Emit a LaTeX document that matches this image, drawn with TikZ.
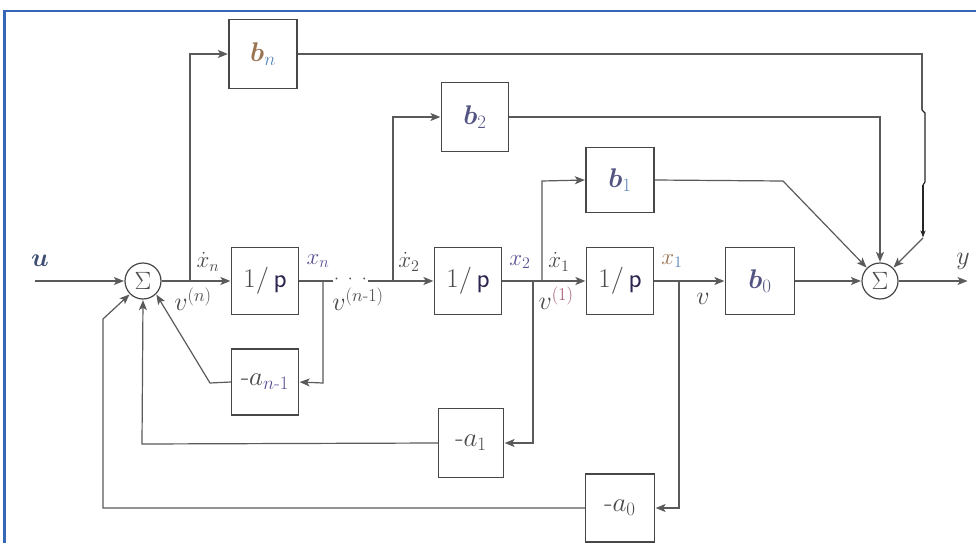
\RequirePackage{fix-cm}
\documentclass[tikz,border=0pt]{standalone}
\usepackage{amsmath}
\usetikzlibrary{arrows.meta}
\definecolor{ln}{HTML}{5A5A5A}
\definecolor{boxc}{HTML}{474747}
\definecolor{frameblue}{HTML}{3566B8}
\definecolor{lblc}{HTML}{4A4A4A}
\definecolor{ucol}{HTML}{3E4E72}
\definecolor{purp}{HTML}{5B4E90}
\definecolor{subblue}{HTML}{5A86B8}
\definecolor{brn}{HTML}{9A7352}
\definecolor{bcol}{HTML}{535482}
\definecolor{pcol}{HTML}{2E2450}
\definecolor{pinkc}{HTML}{A0506E}
\newcommand\myfs[1]{\fontsize{#1}{#1}\selectfont}
\newcommand\onep{$1/$\,\textsf{\color{pcol}p}}
\begin{document}
\begin{tikzpicture}[x=1pt,y=-1pt,
  blk/.style={draw=boxc, line width=1.3pt, minimum width=67pt, minimum height=67pt, inner sep=0pt, font=\myfs{27}, text=lblc},
  sumc/.style={circle, draw=boxc, line width=1.2pt, minimum size=36pt, inner sep=0pt, font=\myfs{25}, text=lblc},
  conn/.style={draw=ln, line width=1.2pt},
  arr/.style={conn, -{Stealth[length=10pt,width=8pt,inset=2.5pt]}, shorten >=0.5pt},
  lbl/.style={font=\myfs{23}, text=lblc, inner sep=0pt}]
\useasboundingbox (0,0) rectangle (976,543);
\fill[white] (0,0) rectangle (976,543);
\draw[frameblue, line width=2.2pt] (4.5,543) -- (4.5,11) -- (976,11);

% summing junctions
\node[sumc] (s1) at (143,281) {$\Sigma$};
\node[sumc] (s2) at (880,281) {$\Sigma$};

% main chain blocks
\node[blk] (p1) at (265,281) {\onep};
\node[blk] (p2) at (468,281) {\onep};
\node[blk] (p3) at (620,281) {\onep};
\node[blk, minimum width=69pt] (b0) at (760,281) {$\color{bcol}\boldsymbol{b}_0$};

% feed-forward blocks
\node[blk, minimum width=68pt, minimum height=69pt] (bn) at (263,54) {$\color{brn}\boldsymbol{b}_{\color{subblue}n}$};
\node[blk, minimum height=69pt] (b2) at (475,117) {$\color{bcol}\boldsymbol{b}_2$};
\node[blk, minimum width=68pt, minimum height=65pt] (b1) at (620,180) {$\color{bcol}\boldsymbol{b}_{\color{subblue}1}$};

% feedback blocks
\node[blk, minimum height=66pt] (an1) at (265,382) {$\text{-}a_{\color{purp}n\text{-}1}$};
\node[blk, minimum width=65pt, minimum height=69pt] (a1) at (471,443) {$\text{-}a_1$};
\node[blk, minimum width=69pt, minimum height=68pt] (a0) at (620,508) {$\text{-}a_0$};

% coordinates
\coordinate (uin) at (35,281);
\coordinate (yout) at (968,281);
\coordinate (jn) at (190,281);
\coordinate (jnT) at (190,54);
\coordinate (d1) at (333,281);
\coordinate (d2) at (368,281);
\coordinate (jxn) at (323,281);
\coordinate (jxnB) at (323,383);
\coordinate (j2) at (393,281);
\coordinate (j2T) at (393,117);
\coordinate (jx2) at (533,281);
\coordinate (jx2B) at (533,443);
\coordinate (j1) at (542,281);
\coordinate (j1T) at (542,181);
\coordinate (jx1) at (679,281);
\coordinate (jx1B) at (679,508);
\coordinate (fn) at (210,383);
\coordinate (f1) at (142,444);
\coordinate (f0a) at (103,508);
\coordinate (f0b) at (103,319);
\coordinate (g1) at (783,181);
\coordinate (g2) at (880,117);
\coordinate (gn1) at (922,54);
\coordinate (gn2) at (922,110);
\coordinate (gn3) at (925,113);
\coordinate (gn4) at (925,182);
\coordinate (gn5) at (923,185);
\coordinate (gn6) at (923,238);

% forward path
\draw[arr] (uin) -- (s1.west);
\draw[arr] (s1.east) -- (p1.west);
\draw[conn] (p1.east) -- (d1);
\node[lbl, font=\myfs{18}] (dots) at (350.5,279) {$\cdot\;\cdot\;\cdot$};
\draw[arr] (d2) -- (p2.west);
\draw[arr] (p2.east) -- (p3.west);
\draw[arr] (p3.east) -- (b0.west);
\draw[arr] (b0.east) -- (s2.west);
\draw[arr] (s2.east) -- (yout);

% feed-forward branches
\draw[arr] (jn) -- (jnT) -- (bn.west);
\draw[arr] (j2) -- (j2T) -- (b2.west);
\draw[arr] (j1) -- (j1T) -- (b1.west);
\draw[arr] (b2.east) -- (g2) -- (s2.north);
\draw[arr] (b1.east) -- (g1) -- (s2.135);
\draw[conn] (bn.east) -- (gn1) -- (gn2);
\draw[conn, draw=black!85] (gn2) -- (gn3) -- (gn4) -- (gn5);
\draw[arr, draw=black!85, -{Stealth[length=7pt,width=5pt,inset=2pt]}] (gn5) -- (gn6);
\draw[arr] (gn6) -- (s2.45);

% feedback branches
\draw[arr] (jxn) -- (jxnB) -- (an1.east);
\draw[arr] (jx2) -- (jx2B) -- (a1.east);
\draw[arr] (jx1) -- (jx1B) -- (a0.east);
\draw[arr] (an1.west) -- (fn) -- (s1.-45);
\draw[arr] (a1.west) -- (f1) -- (s1.south);
\draw[arr] (a0.west) -- (f0a) -- (f0b) -- (s1.-135);

% signal labels
\node[lbl, text=ucol, font=\myfs{26}] (lu) at (40,261) {$\boldsymbol{u}$};
\node[lbl] (lxnd) at (208,262) {$\dot{x}_n$};
\node[lbl, font=\myfs{26}] (lvn) at (193,299) {$v^{\myfs{15}(n)}$};
\node[lbl, text=purp] (lxn) at (318,261) {$x_n$};
\node[lbl, font=\myfs{26}] (lvn1) at (358,299) {$v^{\myfs{15}(n\text{-}1)}$};
\node[lbl] (lx2d) at (409,262) {$\dot{x}_2$};
\node[lbl, text=purp] (lx2) at (520,262) {$x_2$};
\node[lbl] (lx1d) at (559,262) {$\dot{x}_1$};
\node[lbl, font=\myfs{26}] (lv1) at (556,298) {$v^{\myfs{15}\color{pinkc}(1)}$};
\node[lbl, text=brn] (lx1) at (672,261) {$x_{\color{subblue}1}$};
\node[lbl, font=\myfs{26}] (lv) at (703,299) {$v$};
\node[lbl, font=\myfs{26}] (ly) at (963,261) {$y$};
\end{tikzpicture}
\end{document}
